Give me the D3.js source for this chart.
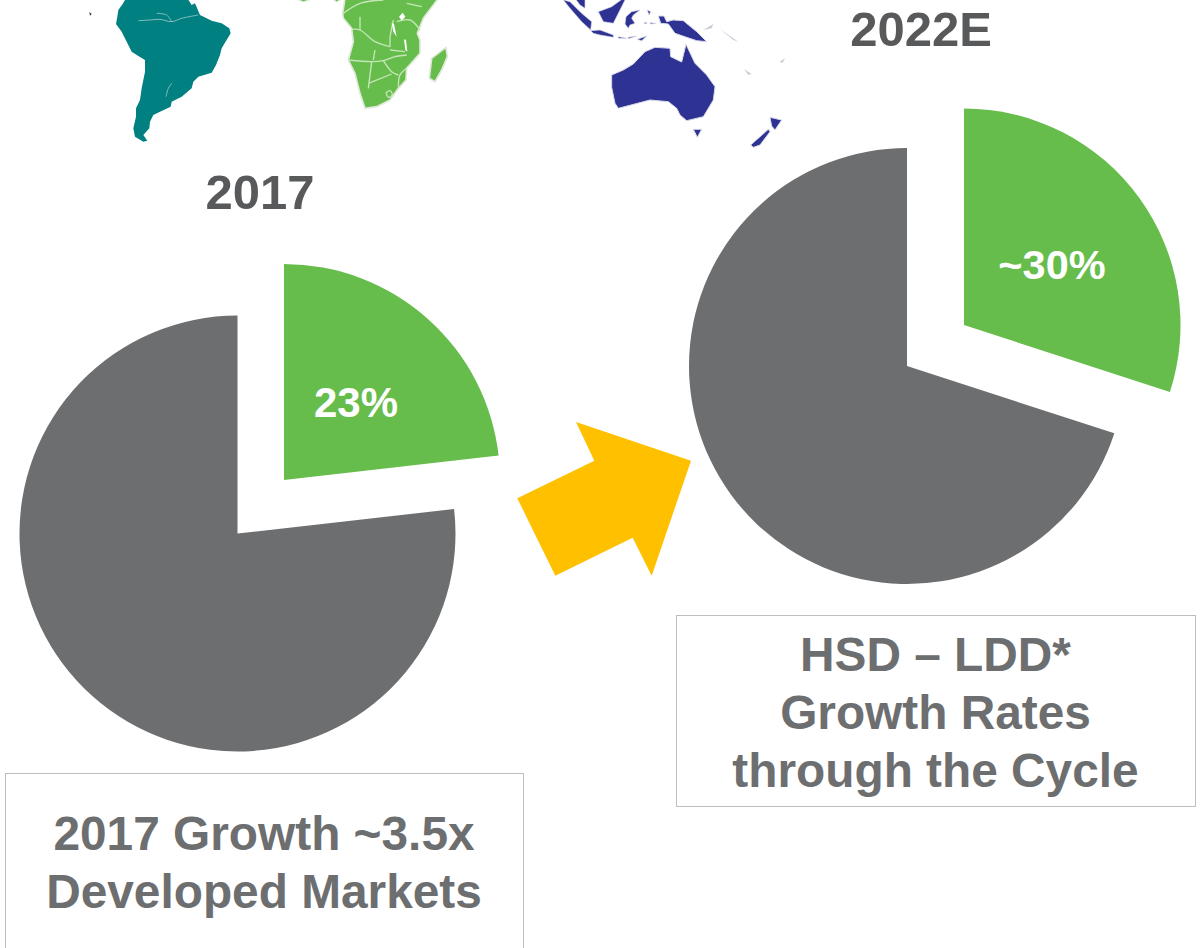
<!DOCTYPE html>
<html><head><meta charset="utf-8">
<script src="https://cdnjs.cloudflare.com/ajax/libs/d3/7.8.5/d3.min.js"></script>
<style>html,body{margin:0;padding:0;background:#fff}svg{display:block}text{font-family:"Liberation Sans",Arial,sans-serif;font-weight:700}</style>
</head><body><svg id="c" width="1204" height="948"></svg>
<script>
const categories = ["Emerging Markets", "Developed Markets"];
const values2017 = [23.2, 76.8];
const values2022 = [30, 70];
const pieLabels = ["23%", "~30%"];
const pieTitles = ["2017", "2022E"];
const box2017Lines = ["2017 Growth ~3.5x", "Developed Markets"];
const box2022Lines = ["HSD \u2013 LDD*", "Growth Rates", "through the Cycle"];
const colors = d3.scaleOrdinal().domain(categories).range(["#66bd4b", "#6d6e70"]);

const svg = d3.select("#c");
svg.append("defs").append("filter").attr("id", "soft").attr("x", "-5%").attr("y", "-5%").attr("width", "110%").attr("height", "110%")
  .append("feGaussianBlur").attr("stdDeviation", 1.2);
const closed = d3.line().curve(d3.curveLinearClosed);
const open = d3.line().curve(d3.curveCatmullRom);

function shapes(dx, dy, fill, list, stroke, sw) {
  const g = svg.append("g").attr("transform", `translate(${dx},${dy}) scale(${1/3})`).attr("filter", "url(#soft)");
  g.selectAll("path").data(list).join("path").attr("d", closed).attr("fill", fill)
    .attr("stroke", stroke || "none").attr("stroke-width", sw || 0).attr("stroke-linejoin", "round");
}
function lines(dx, dy, colour, list, sw) {
  const g = svg.append("g").attr("transform", `translate(${dx},${dy}) scale(${1/3})`).attr("filter", "url(#soft)");
  g.selectAll("path").data(list).join("path").attr("d", open).attr("fill", "none")
    .attr("stroke", colour).attr("stroke-width", sw);
}
const southAmerica = [[[48,-5],[38,12],[25,30],[22,50],[18,72],[35,95],[50,125],[65,155],[85,168],[105,180],[105,215],[95,265],[90,300],[78,325],[78,350],[70,385],[75,410],[100,425],[112,422],[100,405],[118,385],[120,365],[130,345],[150,335],[182,320],[185,305],[215,290],[245,265],[250,245],[265,230],[305,218],[318,195],[330,165],[335,145],[362,100],[358,85],[335,70],[305,62],[270,45],[255,10],[245,15],[232,-5]]];
shapes(110, 0, "#008080", southAmerica);
shapes(60, 0, "#1f3a3a", [[[88,36],[95,42],[90,47]]]);
lines(110, 0, "#9cc9c8", [[[85,62],[120,60],[150,58],[185,65],[215,55],[265,45]],[[140,40],[170,45],[185,65]],[[185,250],[175,265],[168,290]]], 2.5);

const africa = [[[15,-5],[8,40],[10,55],[35,85],[40,125],[25,180],[45,220],[60,280],[75,325],[110,320],[150,300],[175,265],[198,240],[200,205],[240,160],[240,120],[232,100],[250,55],[295,-5]],
  [[318,142],[275,175],[268,235],[285,245],[305,210],[322,170]]];
shapes(340, 0, "#66bd4b", africa, "#dfe8da", 5);
shapes(60, 0, "#66bd4b", [[[702,-5],[730,5],[765,-5]],[[815,-5],[830,5],[850,-5]]], "#dfe8da", 3);
lines(340, 0, "#c6e6b8", [[[25,180],[95,185],[130,182],[165,170],[200,165]],[[95,185],[85,265]],[[35,88],[60,90],[105,125],[150,140]],[[60,90],[60,50]],[[150,110],[150,140]],[[130,182],[155,215],[175,225]],[[85,250],[155,222]],[[160,60],[150,110]],[[170,65],[210,60],[240,90]],[[105,150],[100,180]],[[150,150],[195,155]],[[200,205],[180,225],[175,260]],[[10,40],[60,10],[130,0]],[[200,10],[245,20]],[[138,278],[150,272],[157,285],[145,292],[138,278]]], 4);
shapes(340, 0, "#fff", [[[177,50],[188,38],[196,50],[185,62]],[[155,68],[162,72],[170,110],[160,95]],[[192,118],[198,120],[202,155],[196,150]]]);

const indonesia = [[[40,0],[60,5],[95,40],[125,65],[122,90],[95,65],[60,25]],
  [[75,-5],[105,-5],[105,25],[90,15]],
  [[145,35],[185,20],[220,-5],[225,0],[205,40],[190,70],[160,65]],
  [[228,50],[245,35],[270,30],[250,45],[245,55],[255,70],[240,75],[235,85],[225,72]],
  [[122,92],[150,90],[190,105],[190,112],[150,105],[130,100]],
  [[205,110],[230,115],[205,115]],[[235,112],[260,108],[235,116]],[[262,118],[290,108],[275,122]],
  [[292,30],[302,35],[297,45]],[[282,68],[292,68],[285,72]],[[300,68],[318,70],[302,72]]];
shapes(550, 0, "#2e3192", indonesia, "#d6d8e8", 2);
const oceania = [[[215,225],[250,210],[280,192],[315,155],[345,142],[390,145],[392,170],[425,186],[438,133],[465,190],[500,225],[525,260],[520,300],[490,350],[440,362],[420,345],[410,325],[385,305],[330,300],[235,325],[225,310],[215,262]],
  [[460,388],[485,388],[472,412]],
  [[355,48],[372,48],[380,65],[400,60],[430,62],[470,95],[500,125],[470,122],[440,112],[405,100],[385,72],[362,70]],
  [[632,435],[685,388],[690,395],[660,435],[640,442]],
  [[690,352],[725,360],[705,390],[695,378]]];
shapes(540, 0, "#2e3192", oceania, "#d6d8e8", 3);
shapes(540, 0, "#c9cbd8", [[[490,90],[520,72],[515,85]],[[540,88],[595,125],[580,120]],[[612,208],[635,222],[625,224]],[[718,186],[735,175],[728,188]]]);

// Pies
const pie = d3.pie().sort(null).value(d => d);
const arc = d3.arc().innerRadius(0);
function drawPie(values, cx, cy, rGrey, gx, gy, rGreen, label, lx, ly, fs) {
  const arcs = pie(values);
  const g = svg.append("g");
  g.selectAll("path").data(arcs).join("path")
    .attr("transform", (d, i) => i === 0 ? `translate(${gx},${gy})` : `translate(${cx},${cy})`)
    .attr("d", (d, i) => arc.outerRadius(i === 0 ? rGreen : rGrey)(d))
    .attr("fill", (d, i) => colors(categories[i]));
  g.append("text").attr("x", lx).attr("y", ly).attr("text-anchor", "middle").attr("font-size", fs).attr("fill", "#fff").text(label);
}
drawPie(values2017, 237.5, 533.5, 218, 284, 480, 216, pieLabels[0], 356, 417, 42);
drawPie(values2022, 907, 366, 218, 964, 325, 216.5, pieLabels[1], 1052, 279, 41.5);

svg.append("text").attr("x", 260).attr("y", 209).attr("text-anchor", "middle").attr("font-size", 49).attr("fill", "#58595b").text(pieTitles[0]);
svg.append("text").attr("x", 921).attr("y", 46).attr("text-anchor", "middle").attr("font-size", 49).attr("fill", "#58595b").text(pieTitles[1]);

// Arrow
svg.append("polygon").attr("fill", "#ffc000")
  .attr("points", "691,460.7 576,422 594.3,460.7 517.3,498.3 555.3,575.7 632.7,537.7 651.7,575.7");

// Boxes
function box(x, y, w, h, textLines, cx, base, step) {
  svg.append("rect").attr("x", x + .5).attr("y", y + .5).attr("width", w).attr("height", h)
    .attr("fill", "#fff").attr("stroke", "#bcbdc0").attr("stroke-width", 1);
  svg.selectAll(null).data(textLines).join("text").attr("x", cx).attr("y", (d, i) => base + i * step)
    .attr("text-anchor", "middle").attr("font-size", 47.8).attr("fill", "#6d6e70").text(d => d);
}
box(5, 773, 518, 190, box2017Lines, 264, 850, 58);
box(676, 615, 519, 191, box2022Lines, 935.5, 671, 58);
</script></body></html>
